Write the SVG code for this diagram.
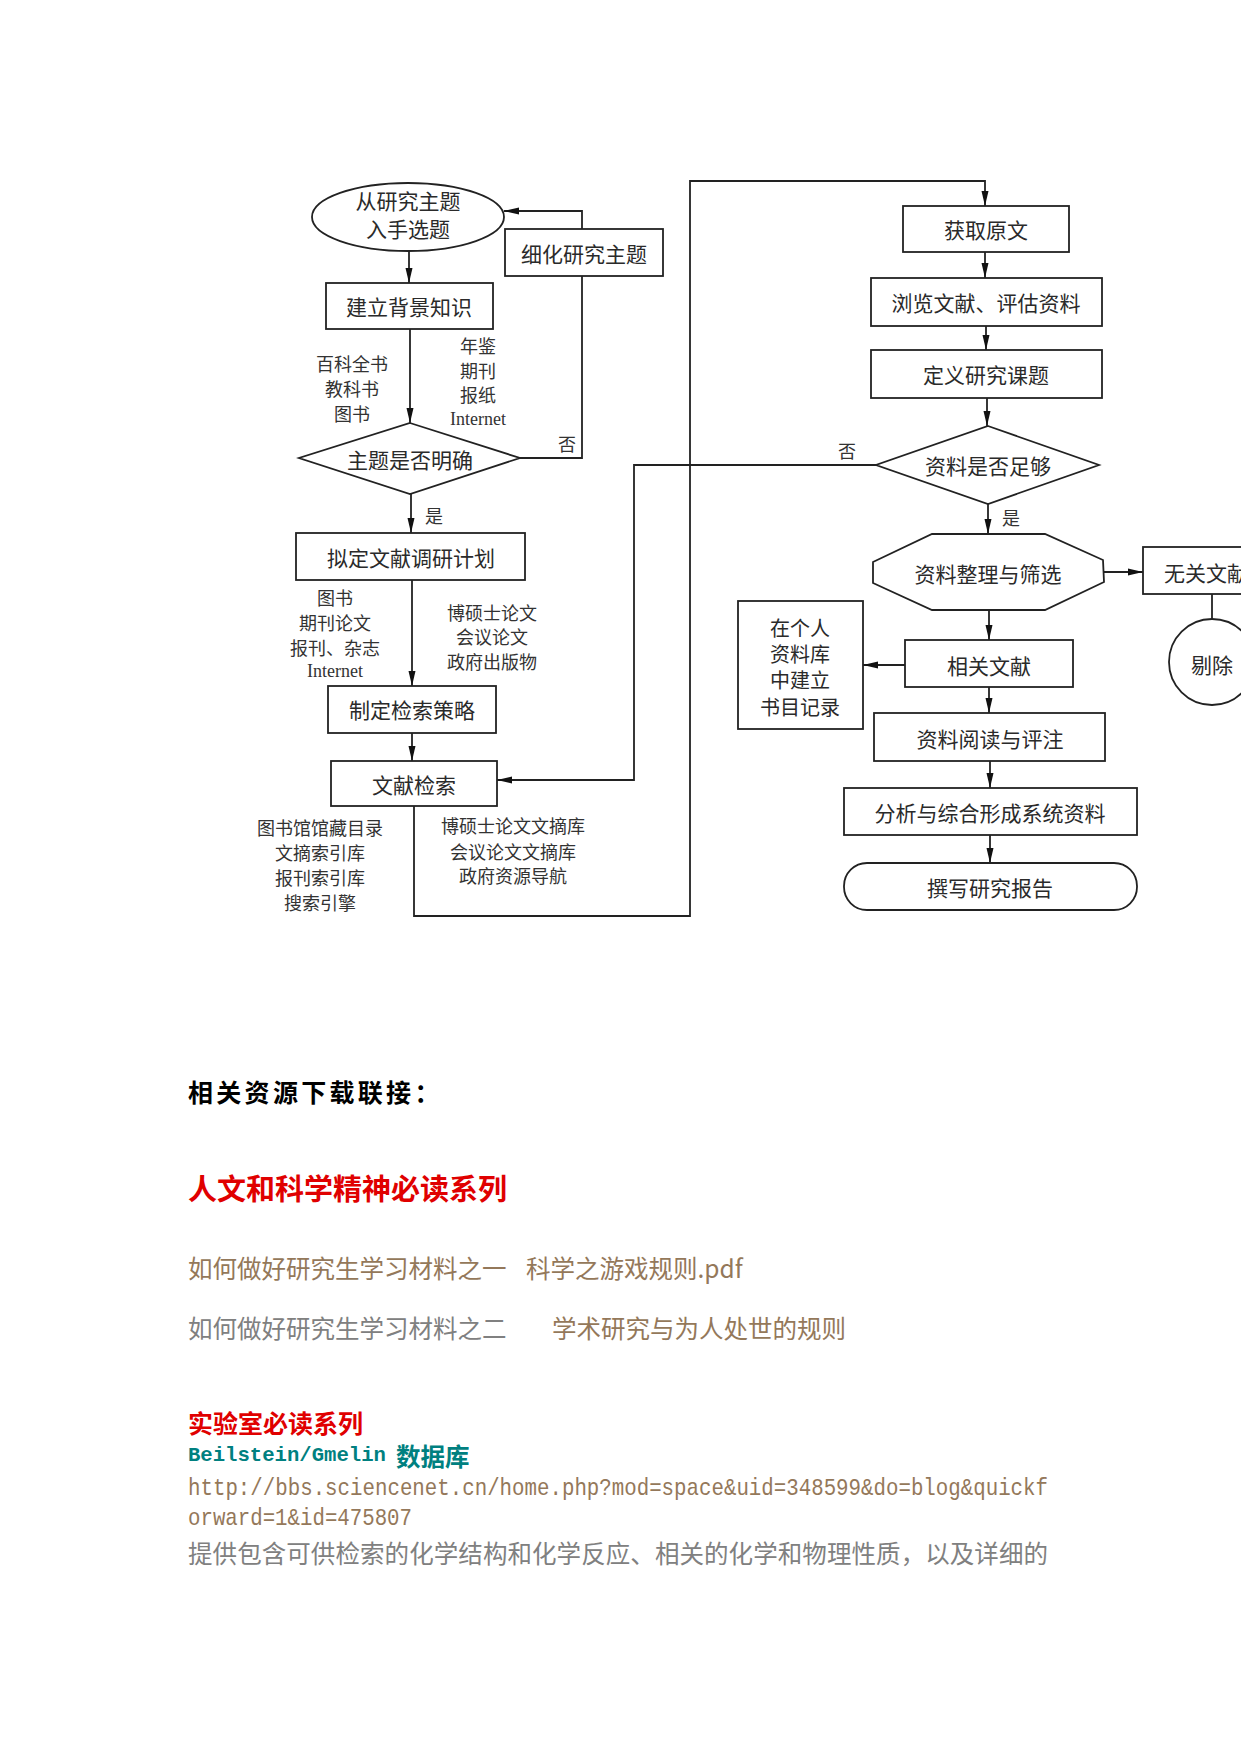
<svg xmlns="http://www.w3.org/2000/svg" width="1241" height="1754" viewBox="0 0 1241 1754">
<style>
.shape{fill:#fff;stroke:#222;stroke-width:1.8}
.lbl{font-family:"Noto Sans CJK SC","Noto Sans",sans-serif;font-size:21px;fill:#2a2a2a;text-anchor:middle;dominant-baseline:central}
.multi{font-size:20px}
.side{font-family:"Noto Sans CJK SC","Noto Sans",sans-serif;font-size:18px;fill:#333;text-anchor:middle;dominant-baseline:central}
.lat{font-family:"Liberation Serif",serif;font-size:18px}
.conn{fill:none;stroke:#222;stroke-width:1.8}
.body{font-family:"Noto Sans CJK SC","Noto Sans",sans-serif;dominant-baseline:central}
</style>
<defs>
<marker id="arr" markerUnits="userSpaceOnUse" markerWidth="16" markerHeight="10" refX="15" refY="5" orient="auto">
<path d="M0,1.5 L15,5 L0,8.5 Z" fill="#111"/>
</marker>
</defs>
<rect width="1241" height="1754" fill="#fff"/>

<g id="connectors">
<path class="conn" d="M409,250 L409,283" marker-end="url(#arr)"/>
<path class="conn" d="M410,329 L410,423" marker-end="url(#arr)"/>
<path class="conn" d="M520,458 L582,458 L582,276"/>
<path class="conn" d="M582,229 L582,211 L504,211" marker-end="url(#arr)"/>
<path class="conn" d="M411,494 L411,533" marker-end="url(#arr)"/>
<path class="conn" d="M412,580 L412,686" marker-end="url(#arr)"/>
<path class="conn" d="M412,733 L412,761" marker-end="url(#arr)"/>
<path class="conn" d="M414,806 L414,916 L690,916 L690,181 L985,181 L985,206" marker-end="url(#arr)"/>
<path class="conn" d="M985,252 L985,278" marker-end="url(#arr)"/>
<path class="conn" d="M986,326 L986,350" marker-end="url(#arr)"/>
<path class="conn" d="M987,398 L987,426" marker-end="url(#arr)"/>
<path class="conn" d="M876,465 L634,465 L634,780 L497,780" marker-end="url(#arr)"/>
<path class="conn" d="M988,504 L988,534" marker-end="url(#arr)"/>
<path class="conn" d="M1104,572 L1143,572" marker-end="url(#arr)"/>
<path class="conn" d="M1212,594 L1212,619"/>
<path class="conn" d="M989,610 L989,640" marker-end="url(#arr)"/>
<path class="conn" d="M905,665 L863,665" marker-end="url(#arr)"/>
<path class="conn" d="M989,687 L989,713" marker-end="url(#arr)"/>
<path class="conn" d="M990,761 L990,788" marker-end="url(#arr)"/>
<path class="conn" d="M990,835 L990,863" marker-end="url(#arr)"/>
</g>

<g id="n-start">
<ellipse class="shape" cx="408" cy="217" rx="96" ry="34"/>
<text class="lbl" x="408" y="200">从研究主题</text>
<text class="lbl" x="408" y="228">入手选题</text>
</g>
<g id="n-refine">
<rect class="shape" x="505" y="229" width="158" height="47"/>
<text class="lbl" x="584" y="253">细化研究主题</text>
</g>
<g id="n-background">
<rect class="shape" x="326" y="283" width="167" height="46"/>
<text class="lbl" x="409" y="306">建立背景知识</text>
</g>
<g id="n-bg-labels">
<text class="side" x="352" y="363">百科全书</text>
<text class="side" x="352" y="388">教科书</text>
<text class="side" x="352" y="413">图书</text>
<text class="side" x="478" y="345">年鉴</text>
<text class="side" x="478" y="370">期刊</text>
<text class="side" x="478" y="394">报纸</text>
<text class="side lat" x="478" y="419">Internet</text>
<text class="side" x="567" y="443">否</text>
</g>
<g id="n-clear">
<polygon class="shape" points="410,423 520,458 410,494 299,458"/>
<text class="lbl" x="410" y="459">主题是否明确</text>
</g>
<text class="side" x="434" y="515">是</text>
<g id="n-plan">
<rect class="shape" x="296" y="533" width="229" height="47"/>
<text class="lbl" x="411" y="557">拟定文献调研计划</text>
</g>
<g id="n-plan-labels">
<text class="side" x="335" y="597">图书</text>
<text class="side" x="335" y="622">期刊论文</text>
<text class="side" x="335" y="647">报刊、杂志</text>
<text class="side lat" x="335" y="671">Internet</text>
<text class="side" x="492" y="612">博硕士论文</text>
<text class="side" x="492" y="636">会议论文</text>
<text class="side" x="492" y="661">政府出版物</text>
</g>
<g id="n-strategy">
<rect class="shape" x="328" y="686" width="168" height="47"/>
<text class="lbl" x="412" y="709">制定检索策略</text>
</g>
<g id="n-search">
<rect class="shape" x="331" y="761" width="166" height="45"/>
<text class="lbl" x="414" y="784">文献检索</text>
</g>
<g id="n-search-labels">
<text class="side" x="320" y="827">图书馆馆藏目录</text>
<text class="side" x="320" y="852">文摘索引库</text>
<text class="side" x="320" y="877">报刊索引库</text>
<text class="side" x="320" y="902">搜索引擎</text>
<text class="side" x="513" y="825">博硕士论文文摘库</text>
<text class="side" x="513" y="851">会议论文文摘库</text>
<text class="side" x="513" y="875">政府资源导航</text>
</g>
<g id="n-obtain">
<rect class="shape" x="903" y="206" width="166" height="46"/>
<text class="lbl" x="986" y="229">获取原文</text>
</g>
<g id="n-browse">
<rect class="shape" x="871" y="278" width="231" height="48"/>
<text class="lbl" x="986" y="302">浏览文献、评估资料</text>
</g>
<g id="n-define">
<rect class="shape" x="871" y="350" width="231" height="48"/>
<text class="lbl" x="986" y="374">定义研究课题</text>
</g>
<g id="n-enough">
<polygon class="shape" points="988,426 1099,465 988,504 876,465"/>
<text class="lbl" x="988" y="465">资料是否足够</text>
</g>
<text class="side" x="847" y="450">否</text>
<text class="side" x="1011" y="517">是</text>
<g id="n-sort">
<polygon class="shape" points="932,534 1045,534 1103,560 1104,582 1045,610 932,610 873,583 873,562"/>
<text class="lbl" x="988" y="573">资料整理与筛选</text>
</g>
<g id="n-irrelevant">
<rect class="shape" x="1143" y="547" width="110" height="47"/>
<text class="lbl" x="1164" y="572" style="text-anchor:start">无关文献</text>
</g>
<g id="n-remove">
<circle class="shape" cx="1212" cy="662" r="43"/>
<text class="lbl" x="1212" y="664">剔除</text>
</g>
<g id="n-record">
<rect class="shape" x="738" y="601" width="125" height="128"/>
<text class="lbl multi" x="800" y="627">在个人</text>
<text class="lbl multi" x="800" y="653">资料库</text>
<text class="lbl multi" x="800" y="679">中建立</text>
<text class="lbl multi" x="800" y="706">书目记录</text>
</g>
<g id="n-relevant">
<rect class="shape" x="905" y="640" width="168" height="47"/>
<text class="lbl" x="989" y="665">相关文献</text>
</g>
<g id="n-read">
<rect class="shape" x="874" y="713" width="231" height="48"/>
<text class="lbl" x="990" y="738">资料阅读与评注</text>
</g>
<g id="n-analyze">
<rect class="shape" x="844" y="788" width="293" height="47"/>
<text class="lbl" x="990" y="812">分析与综合形成系统资料</text>
</g>
<g id="n-report">
<rect class="shape" x="844" y="863" width="293" height="47" rx="23" ry="23"/>
<text class="lbl" x="990" y="887">撰写研究报告</text>
</g>

<g id="resources">
<text class="body" x="188" y="1091" font-size="25" font-weight="bold" fill="#000" letter-spacing="3.3">相关资源下载联接：</text>
<text class="body" x="188" y="1187" font-size="29" font-weight="bold" fill="#e00000">人文和科学精神必读系列</text>
<text class="body" x="188" y="1267" font-size="24.5" fill="#94785a">如何做好研究生学习材料之一</text>
<text class="body" x="526" y="1267" font-size="24.5" fill="#94785a">科学之游戏规则.pdf</text>
<text class="body" x="188" y="1327" font-size="24.5" fill="#808080">如何做好研究生学习材料之二</text>
<text class="body" x="552" y="1327" font-size="24.5" fill="#94785a">学术研究与为人处世的规则</text>
<text class="body" x="188" y="1422" font-size="25" font-weight="bold" fill="#e00000">实验室必读系列</text>
<text x="188" y="1455" font-family="'Liberation Mono',monospace" font-size="20.5" font-weight="bold" fill="#008080" dominant-baseline="central" textLength="198" lengthAdjust="spacingAndGlyphs">Beilstein/Gmelin</text>
<text class="body" x="396" y="1455" font-size="24.5" font-weight="bold" fill="#008080">数据库</text>
<text x="188" y="1488" font-family="'Liberation Mono',monospace" font-size="24" fill="#94785a" dominant-baseline="central" textLength="860" lengthAdjust="spacingAndGlyphs">http://bbs.sciencenet.cn/home.php?mod=space&amp;uid=348599&amp;do=blog&amp;quickf</text>
<text x="188" y="1518" font-family="'Liberation Mono',monospace" font-size="24" fill="#94785a" dominant-baseline="central" textLength="224" lengthAdjust="spacingAndGlyphs">orward=1&amp;id=475807</text>
<text class="body" x="188" y="1552" font-size="24.5" fill="#808080" textLength="860" lengthAdjust="spacing">提供包含可供检索的化学结构和化学反应、相关的化学和物理性质，以及详细的</text>
</g>
</svg>
